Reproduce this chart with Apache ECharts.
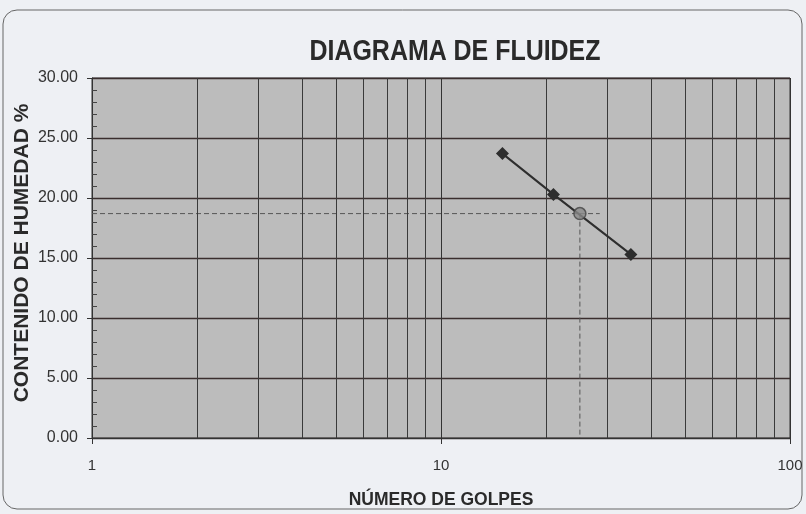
<!DOCTYPE html>
<html>
<head>
<meta charset="utf-8">
<script src="https://cdn.jsdelivr.net/npm/echarts@6/dist/echarts.min.js"></script>
<style>
html,body{margin:0;padding:0;background:#eef0f4}
#chart{width:806px;height:514px}
</style>
</head>
<body>
<div id="chart"></div>
<script>
// golpes vs contenido de humedad
const golpes = [15, 21, 35]
const humedad = [23.7, 20.3, 15.3]
// punto a 25 golpes (limite liquido)
const golpesLL = 25
const humedadLL = 18.7
const finGuia = 28.5
// lineas menores del eje logaritmico
const minorX = [2,3,4,5,6,7,8,9,20,30,40,50,60,70,80,90]

const chart = echarts.init(document.getElementById('chart'))
const font = 'Liberation Sans, Arial, sans-serif'
chart.setOption({
  backgroundColor: '#eef0f4',
  animation: false,
  graphic: [{
    type: 'rect', z: -10,
    shape: {x: 3, y: 10, width: 799, height: 499, r: 14},
    style: {fill: 'none', stroke: '#666', lineWidth: 1}
  }, {
    // titulo algo condensado como en el original
    type: 'text', x: 455, y: 52, scaleX: 0.86,
    style: {text: 'DIAGRAMA DE FLUIDEZ', font: 'bold 29px Liberation Sans, Arial, sans-serif',
      fill: '#2a2a2a', textAlign: 'center', textVerticalAlign: 'middle'}
  }, {
    type: 'text', x: 22, y: 253, rotation: Math.PI / 2, scaleX: 1.0,
    style: {text: 'CONTENIDO DE HUMEDAD %', font: 'bold 21px Liberation Sans, Arial, sans-serif',
      fill: '#2a2a2a', textAlign: 'center', textVerticalAlign: 'middle'}
  }],
  grid: {left: 92, right: 16, top: 78, bottom: 73, show: true, backgroundColor: '#bcbcbc', borderColor: '#333', borderWidth: 1},
  xAxis: {
    type: 'log', logBase: 10, min: 1, max: 100,
    name: 'NÚMERO DE GOLPES', nameLocation: 'middle', nameGap: 53,
    nameTextStyle: {fontFamily: font, fontWeight: 'bold', fontSize: 17.5, color: '#2a2a2a'},
    axisLine: {lineStyle: {color: '#333'}},
    axisTick: {show: true, length: 6, lineStyle: {color: '#333'}},
    axisLabel: {fontFamily: font, fontSize: 15, color: '#333', margin: 20},
    splitLine: {show: true, lineStyle: {color: '#333', width: 1}}
  },
  yAxis: {
    type: 'value', min: 0, max: 30, interval: 5,
    axisLine: {show: true, lineStyle: {color: '#333'}},
    axisTick: {show: true, length: 5, lineStyle: {color: '#333'}},
    minorTick: {show: true, splitNumber: 5, length: -5, lineStyle: {color: '#444'}},
    axisLabel: {fontFamily: font, fontSize: 16, color: '#333', margin: 14, formatter: v => v.toFixed(2)},
    splitLine: {show: true, lineStyle: {color: '#3a2e2e', width: 1.3}}
  },
  series: [{
    type: 'line',
    data: golpes.map((g, i) => [g, humedad[i]]),
    symbol: 'diamond', symbolSize: 13,
    itemStyle: {color: '#2e2e2e'},
    lineStyle: {color: '#2e2e2e', width: 2},
    z: 5,
    markLine: {
      silent: true, symbol: 'none', label: {show: false},
      lineStyle: {color: '#3a3a3a', type: 'solid', width: 1},
      data: minorX.map(v => ({xAxis: v}))
    }
  }, {
    type: 'line',
    data: [[1, humedadLL], [finGuia, humedadLL]],
    symbol: 'none',
    lineStyle: {color: '#555', type: [5, 3], width: 1}
  }, {
    type: 'line',
    data: [[golpesLL, humedadLL], [golpesLL, 0]],
    symbol: 'none',
    lineStyle: {color: '#555', type: [5, 3], width: 1}
  }, {
    type: 'scatter',
    data: [[golpesLL, humedadLL]],
    symbol: 'circle', symbolSize: 12, z: 6,
    itemStyle: {color: '#8a8a8a', borderColor: '#444', borderWidth: 1.5}
  }]
})
</script>
</body>
</html>
